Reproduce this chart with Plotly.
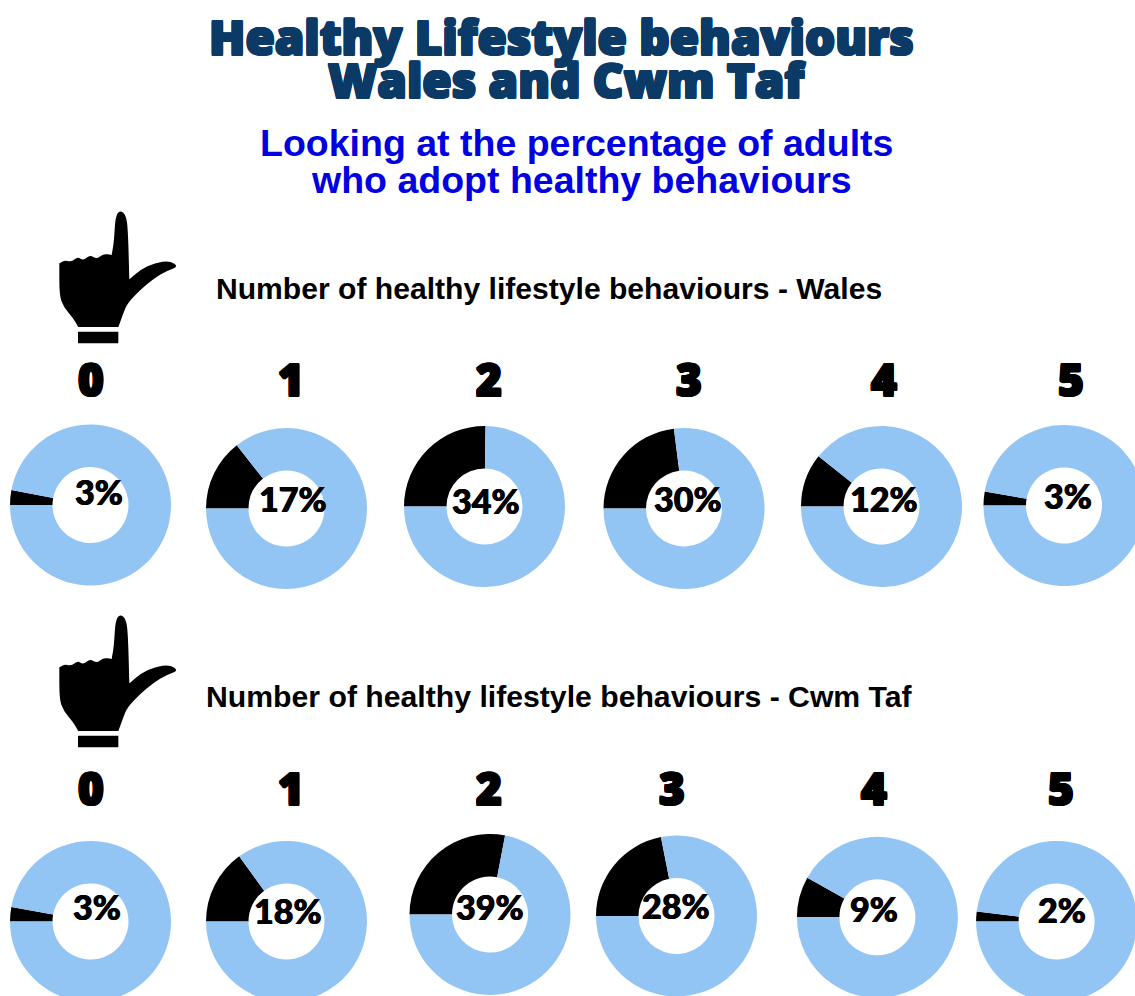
import plotly.graph_objects as go

# ---- data ----
behaviour_counts = ["0", "1", "2", "3", "4", "5"]
wales_labels = [3, 17, 34, 30, 12, 3]
wales_drawn_share = [3, 14.4, 25.2, 23, 10.7, 2.8]
cwm_taf_labels = [3, 18, 39, 28, 9, 2]
cwm_taf_drawn_share = [2.9, 15, 28, 21.9, 8.2, 2]

title_lines = ["Healthy Lifestyle behaviours", "Wales and Cwm Taf"]
subtitle_lines = ["Looking at the percentage of adults", "who adopt healthy behaviours"]
section_wales = "Number of healthy lifestyle behaviours - Wales"
section_cwm = "Number of healthy lifestyle behaviours - Cwm Taf"

# ---- layout (pixels) ----
W, H = 1146, 1003
R = 80.5
HOLE = 0.472
wales_centres = [(90.5, 505), (286.5, 508.5), (484.5, 506.5), (684, 508.5), (881.5, 506.5), (1064, 505.5)]
cwm_centres = [(90.5, 921.5), (286.5, 921.5), (490, 914.5), (676.5, 916), (877.4, 917.3), (1056.6, 921.5)]
wales_label_pos = [(98.5, 491.5), (293, 498.5), (485.5, 500.5), (688, 498.5), (883.5, 498.5), (1067.5, 495.5)]
cwm_label_pos = [(96.5, 906), (288, 910.5), (490, 906), (676, 905.5), (874, 908.5), (1062, 909.5)]
wales_head_x = [91, 291, 488.5, 689, 884, 1071]
cwm_head_x = [91, 291, 488.5, 672, 874, 1061]
WALES_HEAD_Y, CWM_HEAD_Y = 379, 788

BLUE = "#92C5F4"
NAVY = "#0B3A66"
SUB = "#0000E1"


def px(x):
    return x / W


def py(y):
    return 1 - y / H


def thick(color, d=1):
    offs = [(d, 0), (-d, 0), (0, d), (0, -d), (d, d), (-d, d), (d, -d), (-d, -d)]
    return ", ".join(f"{a}px {b}px 0 {color}" for a, b in offs)


fig = go.Figure()


def donut(centre, share):
    cx, cy = centre
    fig.add_trace(go.Pie(
        values=[share, 100 - share],
        sort=False, direction="clockwise", rotation=270,
        hole=HOLE, textinfo="none", hoverinfo="skip", showlegend=False,
        marker=dict(colors=["#000000", BLUE], line=dict(width=0)),
        domain=dict(x=[px(cx - R), px(cx + R)], y=[py(cy + R), py(cy - R)]),
    ))


def text(s, x, y, size, color, family, anchor="center", weight="bold", shadow=None):
    font = dict(size=size, color=color, family=family, weight=weight)
    if shadow:
        font["shadow"] = shadow
    fig.add_annotation(text=s, x=px(x), y=py(y), xref="paper", yref="paper",
                       xanchor=anchor, yanchor="middle", showarrow=False, font=font)


for c, s in zip(wales_centres, wales_drawn_share):
    donut(c, s)
for c, s in zip(cwm_centres, cwm_taf_drawn_share):
    donut(c, s)

DISPLAY = "'Open Sans', Lato, sans-serif"
text(title_lines[0], 561, 36, 47.5, NAVY, DISPLAY, weight=800, shadow=thick(NAVY))
text(title_lines[1], 566, 79, 47.5, NAVY, DISPLAY, weight=800, shadow=thick(NAVY))
text(subtitle_lines[0], 576, 143.5, 37.5, SUB, "Liberation Sans")
text(subtitle_lines[1], 581, 180.5, 37.5, SUB, "Liberation Sans")
text(section_wales, 214, 288.5, 30.1, "#000000", "Liberation Sans", anchor="left")
text(section_cwm, 204, 696.5, 30.2, "#000000", "Liberation Sans", anchor="left")

for lab, x in zip(behaviour_counts, wales_head_x):
    text(lab, x, WALES_HEAD_Y, 44, "#000000", DISPLAY, weight=800, shadow=thick("#000000"))
for lab, x in zip(behaviour_counts, cwm_head_x):
    text(lab, x, CWM_HEAD_Y, 44, "#000000", DISPLAY, weight=800, shadow=thick("#000000"))

PCT_SHADOW = "0.5px 0 0 #000000, -0.5px 0 0 #000000"
for v, (x, y) in zip(wales_labels, wales_label_pos):
    text(f"{v}%", x, y, 34, "#000000", "Lato, sans-serif", weight=900, shadow=PCT_SHADOW)
for v, (x, y) in zip(cwm_taf_labels, cwm_label_pos):
    text(f"{v}%", x, y, 34, "#000000", "Lato, sans-serif", weight=900, shadow=PCT_SHADOW)

# pointing-hand icon, traced in pixels relative to the 3x crop at (40, 200)
HAND = [(58, 190), (58, 190), (75, 181), (95, 186), (113, 170), (130, 182), (150, 164), (170, 178),
        (190, 161), (215, 165), (215, 165), (222, 125), (226, 50), (240, 30), (258, 45), (264, 90),
        (268, 238), (268, 238), (300, 210), (345, 188), (390, 182), (416, 200), (380, 212), (340, 237),
        (300, 270), (262, 310), (250, 340), (235, 381), (235, 381), (115, 381), (115, 381), (100, 355),
        (70, 320), (58, 285), (58, 190), (58, 190)]
CUFF = [(114, 395), (235, 395), (235, 430), (114, 430)]


def hand_path(dy):
    pts = [(px(40 + x / 3), py(200 + dy + y / 3)) for x, y in HAND]
    mid = lambda a, b: ((a[0] + b[0]) / 2, (a[1] + b[1]) / 2)
    start = mid(pts[0], pts[1])
    d = f"M{start[0]:.5f},{start[1]:.5f}"
    for i in range(1, len(pts) - 1):
        m = mid(pts[i], pts[i + 1])
        d += f" Q{pts[i][0]:.5f},{pts[i][1]:.5f} {m[0]:.5f},{m[1]:.5f}"
    return d + " Z"


def cuff_path(dy):
    pts = [(px(40 + x / 3), py(200 + dy + y / 3)) for x, y in CUFF]
    return "M" + " L".join(f"{a:.5f},{b:.5f}" for a, b in pts) + " Z"


shapes = []
for dy in (0, 404):
    for p in (hand_path(dy), cuff_path(dy)):
        shapes.append(dict(type="path", path=p, xref="paper", yref="paper",
                           fillcolor="#000000", line=dict(width=0), layer="above"))

fig.update_layout(width=W, height=H, margin=dict(l=0, r=0, t=0, b=0),
                  paper_bgcolor="#FFFFFF", plot_bgcolor="#FFFFFF", shapes=shapes)

fig.write_html("out.html", config={"displayModeBar": False},
               post_script="document.documentElement.style.overflow='hidden';"
                           "document.body.style.overflow='hidden';document.body.style.margin='0';")
